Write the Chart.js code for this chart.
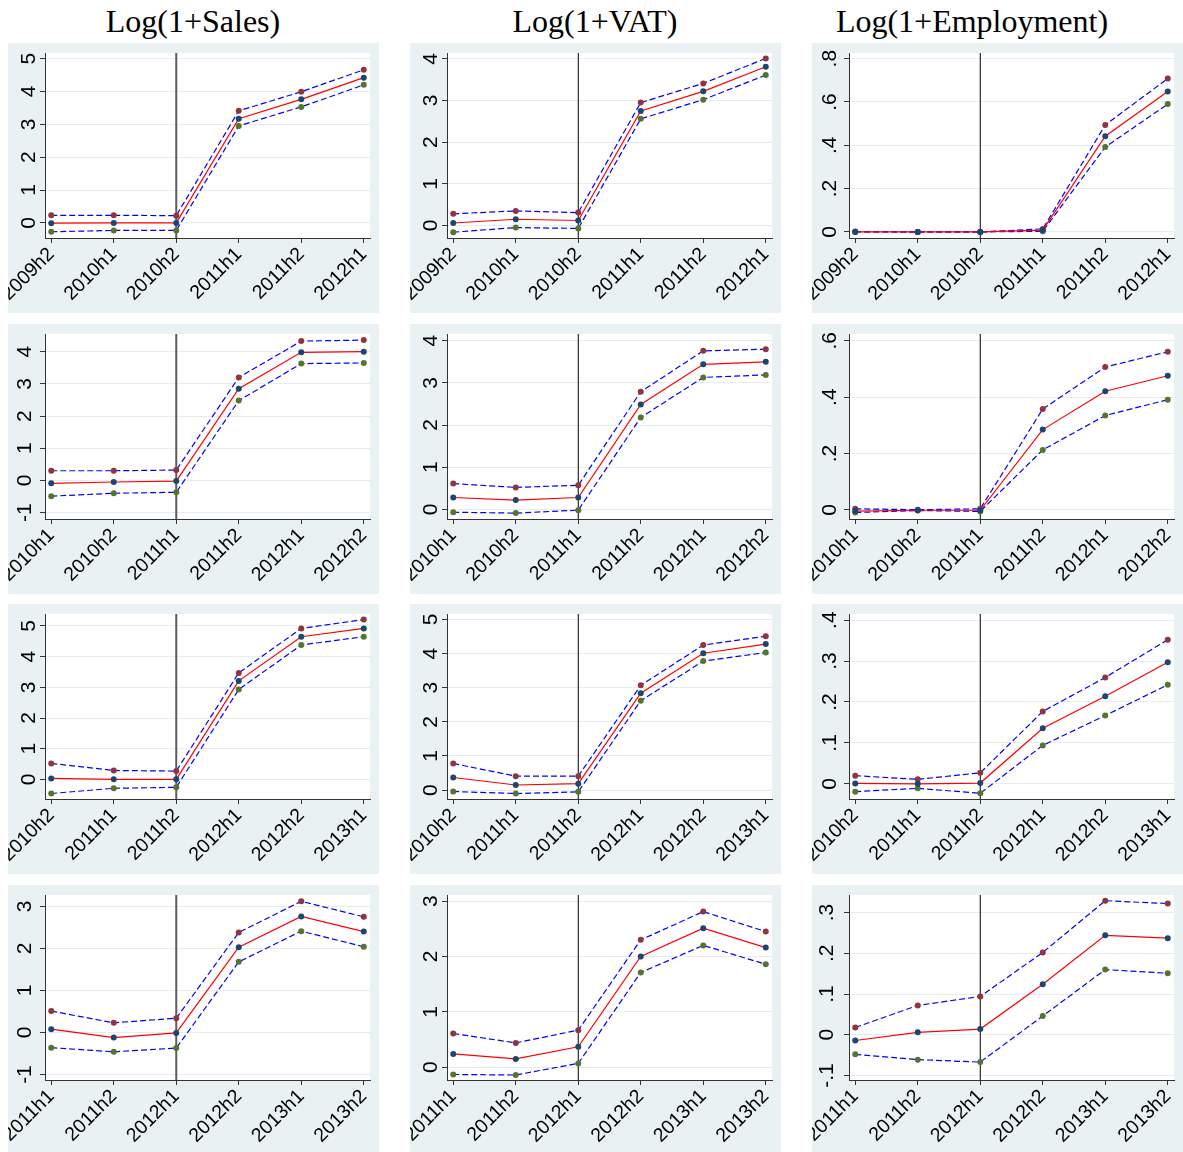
<!DOCTYPE html>
<html>
<head>
<meta charset="utf-8">
<script src="https://cdn.jsdelivr.net/npm/chart.js@4.4.1/dist/chart.umd.min.js"></script>
<style>
  html, body { margin: 0; padding: 0; background: #fff; overflow: hidden; }
  body { width: 1183px; height: 1152px; position: relative; }
  .title {
    position: absolute; top: 3px; transform: translateX(-50%); white-space: nowrap;
    font-family: "Liberation Serif", "Times New Roman", serif; font-size: 32px; color: #000;
  }
  canvas.panel { position: absolute; background: #eaf1f3; }
</style>
</head>
<body>
<script>
const titles = ["Log(1+Sales)", "Log(1+VAT)", "Log(1+Employment)"];

// one row of panels per event window
const periods = [
  ["2009h2", "2010h1", "2010h2", "2011h1", "2011h2", "2012h1"],
  ["2010h1", "2010h2", "2011h1", "2011h2", "2012h1", "2012h2"],
  ["2010h2", "2011h1", "2011h2", "2012h1", "2012h2", "2013h1"],
  ["2011h1", "2011h2", "2012h1", "2012h2", "2013h1", "2013h2"]
];

const salesEst = [
  [-0.01, 0.00, 0.00, 3.17, 3.76, 4.42],
  [-0.09, -0.05, -0.02, 2.85, 3.98, 4.00],
  [0.03, 0.00, 0.00, 3.21, 4.65, 4.92],
  [0.08, -0.12, -0.01, 2.03, 2.76, 2.40]
];
const salesUpper = [
  [0.23, 0.23, 0.22, 3.41, 3.99, 4.66],
  [0.30, 0.30, 0.32, 3.20, 4.33, 4.36],
  [0.52, 0.29, 0.27, 3.47, 4.92, 5.21],
  [0.51, 0.23, 0.34, 2.38, 3.12, 2.75]
];
const salesLower = [
  [-0.27, -0.23, -0.23, 2.95, 3.53, 4.20],
  [-0.49, -0.40, -0.37, 2.48, 3.63, 3.65],
  [-0.46, -0.29, -0.26, 2.93, 4.38, 4.65],
  [-0.36, -0.46, -0.37, 1.68, 2.41, 2.04]
];

const vatEst = [
  [0.06, 0.15, 0.12, 2.75, 3.22, 3.81],
  [0.28, 0.22, 0.28, 2.49, 3.44, 3.50],
  [0.37, 0.15, 0.19, 2.84, 4.01, 4.28],
  [0.24, 0.15, 0.37, 2.00, 2.51, 2.16]
];
const vatUpper = [
  [0.28, 0.35, 0.31, 2.95, 3.41, 4.01],
  [0.61, 0.52, 0.57, 2.79, 3.76, 3.80],
  [0.78, 0.41, 0.41, 3.07, 4.25, 4.51],
  [0.61, 0.44, 0.67, 2.30, 2.81, 2.45]
];
const vatLower = [
  [-0.16, -0.05, -0.07, 2.56, 3.02, 3.61],
  [-0.07, -0.09, -0.02, 2.18, 3.13, 3.19],
  [-0.04, -0.10, -0.05, 2.62, 3.78, 4.03],
  [-0.13, -0.14, 0.07, 1.71, 2.20, 1.86]
];

const empEst = [
  [0.000, 0.000, 0.000, 0.008, 0.442, 0.648],
  [-0.004, -0.001, -0.001, 0.285, 0.421, 0.476],
  [0.001, 0.000, 0.002, 0.136, 0.214, 0.297],
  [-0.014, 0.006, 0.014, 0.124, 0.244, 0.237]
];
const empUpper = [
  [0.002, 0.000, 0.000, 0.014, 0.494, 0.708],
  [0.004, 0.001, 0.004, 0.358, 0.507, 0.561],
  [0.020, 0.011, 0.027, 0.177, 0.260, 0.352],
  [0.018, 0.072, 0.094, 0.202, 0.329, 0.322]
];
const empLower = [
  [0.000, 0.000, 0.000, 0.003, 0.392, 0.590],
  [-0.009, -0.002, -0.005, 0.213, 0.335, 0.391],
  [-0.019, -0.011, -0.023, 0.094, 0.167, 0.242],
  [-0.048, -0.061, -0.067, 0.046, 0.160, 0.151]
];

// y axis ticks and limits, per row
const salesTicks = [[0, 1, 2, 3, 4, 5], [-1, 0, 1, 2, 3, 4], [0, 1, 2, 3, 4, 5], [-1, 0, 1, 2, 3]];
const vatTicks = [[0, 1, 2, 3, 4], [0, 1, 2, 3, 4], [0, 1, 2, 3, 4, 5], [0, 1, 2, 3]];
const empTicks = [[0, 0.2, 0.4, 0.6, 0.8], [0, 0.2, 0.4, 0.6], [0, 0.1, 0.2, 0.3, 0.4], [-0.1, 0, 0.1, 0.2, 0.3]];
const salesRange = [[-0.46, 5.17], [-1.2, 4.55], [-0.64, 5.39], [-1.13, 3.27]];
const vatRange = [[-0.3, 4.14], [-0.23, 4.16], [-0.26, 5.16], [-0.23, 3.11]];
const empRange = [[-0.028, 0.826], [-0.032, 0.624], [-0.037, 0.415], [-0.111, 0.343]];

const eventIndex = 2; // vertical reference line

const outcomes = [
  { est: salesEst, upper: salesUpper, lower: salesLower, ticks: salesTicks, range: salesRange },
  { est: vatEst, upper: vatUpper, lower: vatLower, ticks: vatTicks, range: vatRange },
  { est: empEst, upper: empUpper, lower: empLower, ticks: empTicks, range: empRange }
];

const colLeft = [8, 410, 812];
const rowTop = [43, 324, 604, 885];
const titleCenter = [193, 595, 972];
const vlineColor = ["#5c5c5c", "#000", "#000"];
const vlineWidth = [2, 1, 1];

const plotBg = {
  id: "plotBg",
  beforeDraw(chart) {
    const { ctx, chartArea: a } = chart;
    ctx.save();
    ctx.fillStyle = "#fff";
    ctx.fillRect(a.left, a.top, a.right - a.left, a.bottom - a.top);
    ctx.restore();
  }
};

function stataNum(v) {
  const r = Math.round(v * 100) / 100;
  return String(r).replace(/^(-?)0\./, "$1.");
}

const pts = arr => arr.map((y, i) => ({ x: i, y }));

titles.forEach((t, c) => {
  const d = document.createElement("div");
  d.className = "title";
  d.textContent = t;
  d.style.left = titleCenter[c] + "px";
  document.body.appendChild(d);
});

for (let r = 0; r < periods.length; r++) {
  outcomes.forEach((o, c) => {
    const canvas = document.createElement("canvas");
    canvas.className = "panel";
    canvas.width = 371;
    canvas.height = 270;
    canvas.style.left = colLeft[c] + "px";
    canvas.style.top = rowTop[r] + "px";
    document.body.appendChild(canvas);

    const labels = periods[r];
    const [yMin, yMax] = o.range[r];
    const tickVals = o.ticks[r];

    new Chart(canvas, {
      type: "line",
      data: {
        datasets: [
          { data: pts(o.est[r]), borderColor: "#ff0000", borderWidth: 1.2,
            pointRadius: 3, pointBackgroundColor: "#1a476f", pointBorderWidth: 0 },
          { data: pts(o.upper[r]), borderColor: "#0000ff", borderWidth: 1.2, borderDash: [6, 3],
            pointRadius: 3, pointBackgroundColor: "#90353b", pointBorderWidth: 0 },
          { data: pts(o.lower[r]), borderColor: "#0000ff", borderWidth: 1.2, borderDash: [6, 3],
            pointRadius: 3, pointBackgroundColor: "#55752f", pointBorderWidth: 0 },
          { data: [{ x: eventIndex, y: yMin }, { x: eventIndex, y: yMax }],
            borderColor: vlineColor[c], borderWidth: vlineWidth[c], pointRadius: 0 }
        ]
      },
      options: {
        responsive: false,
        animation: false,
        devicePixelRatio: 1,
        layout: { padding: { top: 10, right: 9, bottom: 0, left: 0 } },
        plugins: { legend: { display: false }, tooltip: { enabled: false } },
        scales: {
          x: {
            type: "linear", min: -0.1, max: 5.1,
            afterBuildTicks: s => { s.ticks = labels.map((_, i) => ({ value: i })); },
            afterFit: s => { s.height = 75; s.paddingLeft = 0; s.paddingRight = 0; },
            grid: { drawOnChartArea: false, drawTicks: true, tickLength: 5, tickColor: "#333" },
            border: { display: true, color: "#333", width: 1 },
            ticks: {
              autoSkip: false, minRotation: 45, maxRotation: 45, padding: 0, color: "#000",
              font: { family: "Liberation Sans", size: 19.5 },
              callback: v => labels[v]
            }
          },
          y: {
            min: yMin, max: yMax,
            afterBuildTicks: s => { s.ticks = tickVals.map(v => ({ value: v })); },
            afterFit: s => { s.width = 37; s.paddingTop = 0; s.paddingBottom = 0; },
            grid: { color: "#e4edf0", lineWidth: 1, drawTicks: true, tickLength: 5, tickColor: "#333" },
            border: { display: true, color: "#333", width: 1 },
            ticks: {
              minRotation: 90, maxRotation: 90, crossAlign: "center", padding: 5, color: "#000",
              font: { family: "Liberation Sans", size: 21 },
              callback: v => stataNum(v)
            }
          }
        }
      },
      plugins: [plotBg]
    });
  });
}
</script>
</body>
</html>
